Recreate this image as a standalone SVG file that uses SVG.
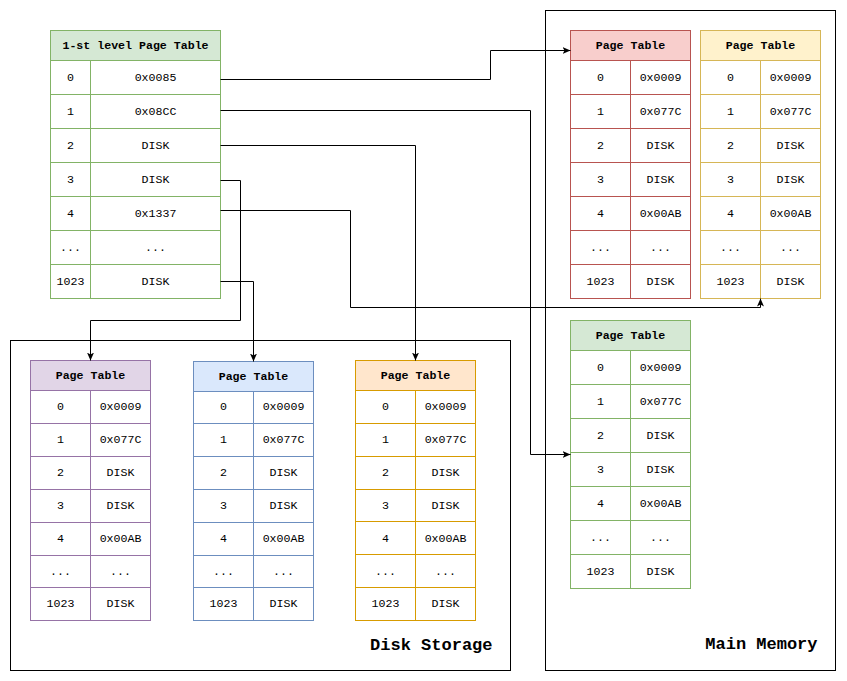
<svg xmlns="http://www.w3.org/2000/svg" width="847" height="681" viewBox="0 0 847 681">
<defs>
<marker id="arr" viewBox="0 0 8 8" refX="8" refY="4" markerWidth="8" markerHeight="8" markerUnits="userSpaceOnUse" orient="auto">
<path d="M0,0.5 L8,4 L0,7.5 L2,4 z" fill="#000"/>
</marker>
</defs>
<style>
text{font-family:"Liberation Mono","Courier New",monospace;font-size:11.6px;fill:#000;text-anchor:middle;transform:translateY(-1px)}
.h{font-weight:bold}
.big{font-weight:bold;font-size:17px;text-anchor:end;transform:none}
.box{fill:none;stroke:#000;stroke-width:1}
.conn path{fill:none;stroke:#000;stroke-width:1;marker-end:url(#arr)}
.green rect.o,.green line{stroke:#82b366}.green rect.hd{fill:#d5e8d4;stroke:#82b366}
.red rect.o,.red line{stroke:#b85450}.red rect.hd{fill:#f8cecc;stroke:#b85450}
.yel rect.o,.yel line{stroke:#d6b656}.yel rect.hd{fill:#fff2cc;stroke:#d6b656}
.pur rect.o,.pur line{stroke:#9673a6}.pur rect.hd{fill:#e1d5e7;stroke:#9673a6}
.blu rect.o,.blu line{stroke:#6c8ebf}.blu rect.hd{fill:#dae8fc;stroke:#6c8ebf}
.org rect.o,.org line{stroke:#d79b00}.org rect.hd{fill:#ffe6cc;stroke:#d79b00}
rect.o{fill:#fff;stroke-width:1}
line{stroke-width:1}
</style>
<rect width="847" height="681" fill="#fff"/>
<g transform="translate(0.5,0.5)">
<g id="disk-storage"><rect class="box" x="10" y="340" width="500" height="330"/><text class="big" x="492" y="649.5">Disk Storage</text></g>
<g id="main-memory"><rect class="box" x="545" y="10" width="290" height="660"/><text class="big" x="817" y="648.5">Main Memory</text></g>

<g id="first-level" class="green">
<rect class="o" x="50" y="30" width="170" height="268"/>
<rect class="hd" x="50" y="30" width="170" height="30"/>
<line x1="90" y1="60" x2="90" y2="298"/>
<line x1="50" y1="94" x2="220" y2="94"/><line x1="50" y1="128" x2="220" y2="128"/><line x1="50" y1="162" x2="220" y2="162"/><line x1="50" y1="196" x2="220" y2="196"/><line x1="50" y1="230" x2="220" y2="230"/><line x1="50" y1="264" x2="220" y2="264"/>
<text class="h" x="135" y="49">1-st level Page Table</text>
<text x="70" y="81">0</text><text x="155" y="81">0x0085</text>
<text x="70" y="115">1</text><text x="155" y="115">0x08CC</text>
<text x="70" y="149">2</text><text x="155" y="149">DISK</text>
<text x="70" y="183">3</text><text x="155" y="183">DISK</text>
<text x="70" y="217">4</text><text x="155" y="217">0x1337</text>
<text x="70" y="251">...</text><text x="155" y="251">...</text>
<text x="70" y="285">1023</text><text x="155" y="285">DISK</text>
</g>

<g id="pt-red" class="red">
<rect class="o" x="570" y="30" width="120" height="268"/>
<rect class="hd" x="570" y="30" width="120" height="30"/>
<line x1="630" y1="60" x2="630" y2="298"/>
<line x1="570" y1="94" x2="690" y2="94"/><line x1="570" y1="128" x2="690" y2="128"/><line x1="570" y1="162" x2="690" y2="162"/><line x1="570" y1="196" x2="690" y2="196"/><line x1="570" y1="230" x2="690" y2="230"/><line x1="570" y1="264" x2="690" y2="264"/>
<text class="h" x="630" y="49">Page Table</text>
<text x="600" y="81">0</text><text x="660" y="81">0x0009</text>
<text x="600" y="115">1</text><text x="660" y="115">0x077C</text>
<text x="600" y="149">2</text><text x="660" y="149">DISK</text>
<text x="600" y="183">3</text><text x="660" y="183">DISK</text>
<text x="600" y="217">4</text><text x="660" y="217">0x00AB</text>
<text x="600" y="251">...</text><text x="660" y="251">...</text>
<text x="600" y="285">1023</text><text x="660" y="285">DISK</text>
</g>

<g id="pt-yellow" class="yel">
<rect class="o" x="700" y="30" width="120" height="268"/>
<rect class="hd" x="700" y="30" width="120" height="30"/>
<line x1="760" y1="60" x2="760" y2="298"/>
<line x1="700" y1="94" x2="820" y2="94"/><line x1="700" y1="128" x2="820" y2="128"/><line x1="700" y1="162" x2="820" y2="162"/><line x1="700" y1="196" x2="820" y2="196"/><line x1="700" y1="230" x2="820" y2="230"/><line x1="700" y1="264" x2="820" y2="264"/>
<text class="h" x="760" y="49">Page Table</text>
<text x="730" y="81">0</text><text x="790" y="81">0x0009</text>
<text x="730" y="115">1</text><text x="790" y="115">0x077C</text>
<text x="730" y="149">2</text><text x="790" y="149">DISK</text>
<text x="730" y="183">3</text><text x="790" y="183">DISK</text>
<text x="730" y="217">4</text><text x="790" y="217">0x00AB</text>
<text x="730" y="251">...</text><text x="790" y="251">...</text>
<text x="730" y="285">1023</text><text x="790" y="285">DISK</text>
</g>

<g id="pt-green" class="green">
<rect class="o" x="570" y="320" width="120" height="268"/>
<rect class="hd" x="570" y="320" width="120" height="30"/>
<line x1="630" y1="350" x2="630" y2="588"/>
<line x1="570" y1="384" x2="690" y2="384"/><line x1="570" y1="418" x2="690" y2="418"/><line x1="570" y1="452" x2="690" y2="452"/><line x1="570" y1="486" x2="690" y2="486"/><line x1="570" y1="520" x2="690" y2="520"/><line x1="570" y1="554" x2="690" y2="554"/>
<text class="h" x="630" y="339">Page Table</text>
<text x="600" y="371">0</text><text x="660" y="371">0x0009</text>
<text x="600" y="405">1</text><text x="660" y="405">0x077C</text>
<text x="600" y="439">2</text><text x="660" y="439">DISK</text>
<text x="600" y="473">3</text><text x="660" y="473">DISK</text>
<text x="600" y="507">4</text><text x="660" y="507">0x00AB</text>
<text x="600" y="541">...</text><text x="660" y="541">...</text>
<text x="600" y="575">1023</text><text x="660" y="575">DISK</text>
</g>

<g id="pt-purple" class="pur">
<rect class="o" x="30" y="360" width="120" height="260"/>
<rect class="hd" x="30" y="360" width="120" height="30"/>
<line x1="90" y1="390" x2="90" y2="620"/>
<line x1="30" y1="423" x2="150" y2="423"/><line x1="30" y1="456" x2="150" y2="456"/><line x1="30" y1="489" x2="150" y2="489"/><line x1="30" y1="522" x2="150" y2="522"/><line x1="30" y1="555" x2="150" y2="555"/><line x1="30" y1="587" x2="150" y2="587"/>
<text class="h" x="90" y="379">Page Table</text>
<text x="60" y="410">0</text><text x="120" y="410">0x0009</text>
<text x="60" y="443">1</text><text x="120" y="443">0x077C</text>
<text x="60" y="476">2</text><text x="120" y="476">DISK</text>
<text x="60" y="509">3</text><text x="120" y="509">DISK</text>
<text x="60" y="542">4</text><text x="120" y="542">0x00AB</text>
<text x="60" y="575">...</text><text x="120" y="575">...</text>
<text x="60" y="607">1023</text><text x="120" y="607">DISK</text>
</g>

<g id="pt-blue" class="blu">
<rect class="o" x="193" y="361" width="120" height="259"/>
<rect class="hd" x="193" y="361" width="120" height="30"/>
<line x1="253" y1="391" x2="253" y2="620"/>
<line x1="193" y1="423" x2="313" y2="423"/><line x1="193" y1="456" x2="313" y2="456"/><line x1="193" y1="489" x2="313" y2="489"/><line x1="193" y1="522" x2="313" y2="522"/><line x1="193" y1="555" x2="313" y2="555"/><line x1="193" y1="587" x2="313" y2="587"/>
<text class="h" x="253" y="380">Page Table</text>
<text x="223" y="410">0</text><text x="283" y="410">0x0009</text>
<text x="223" y="443">1</text><text x="283" y="443">0x077C</text>
<text x="223" y="476">2</text><text x="283" y="476">DISK</text>
<text x="223" y="509">3</text><text x="283" y="509">DISK</text>
<text x="223" y="542">4</text><text x="283" y="542">0x00AB</text>
<text x="223" y="575">...</text><text x="283" y="575">...</text>
<text x="223" y="607">1023</text><text x="283" y="607">DISK</text>
</g>

<g id="pt-orange" class="org">
<rect class="o" x="355" y="360" width="120" height="260"/>
<rect class="hd" x="355" y="360" width="120" height="30"/>
<line x1="415" y1="390" x2="415" y2="620"/>
<line x1="355" y1="423" x2="475" y2="423"/><line x1="355" y1="456" x2="475" y2="456"/><line x1="355" y1="489" x2="475" y2="489"/><line x1="355" y1="521" x2="475" y2="521"/><line x1="355" y1="554" x2="475" y2="554"/><line x1="355" y1="587" x2="475" y2="587"/>
<text class="h" x="415" y="379">Page Table</text>
<text x="385" y="410">0</text><text x="445" y="410">0x0009</text>
<text x="385" y="443">1</text><text x="445" y="443">0x077C</text>
<text x="385" y="476">2</text><text x="445" y="476">DISK</text>
<text x="385" y="509">3</text><text x="445" y="509">DISK</text>
<text x="385" y="542">4</text><text x="445" y="542">0x00AB</text>
<text x="385" y="575">...</text><text x="445" y="575">...</text>
<text x="385" y="607">1023</text><text x="445" y="607">DISK</text>
</g>

<g id="connectors" class="conn">
<path d="M220,79 H490 V50 H570"/>
<path d="M220,110 H530 V454 H570"/>
<path d="M220,145 H415 V360"/>
<path d="M220,180 H240 V320 H90 V360"/>
<path d="M220,210 H350 V307 H760 V298"/>
<path d="M220,281 H253 V361"/>
</g>
</g>
</svg>
